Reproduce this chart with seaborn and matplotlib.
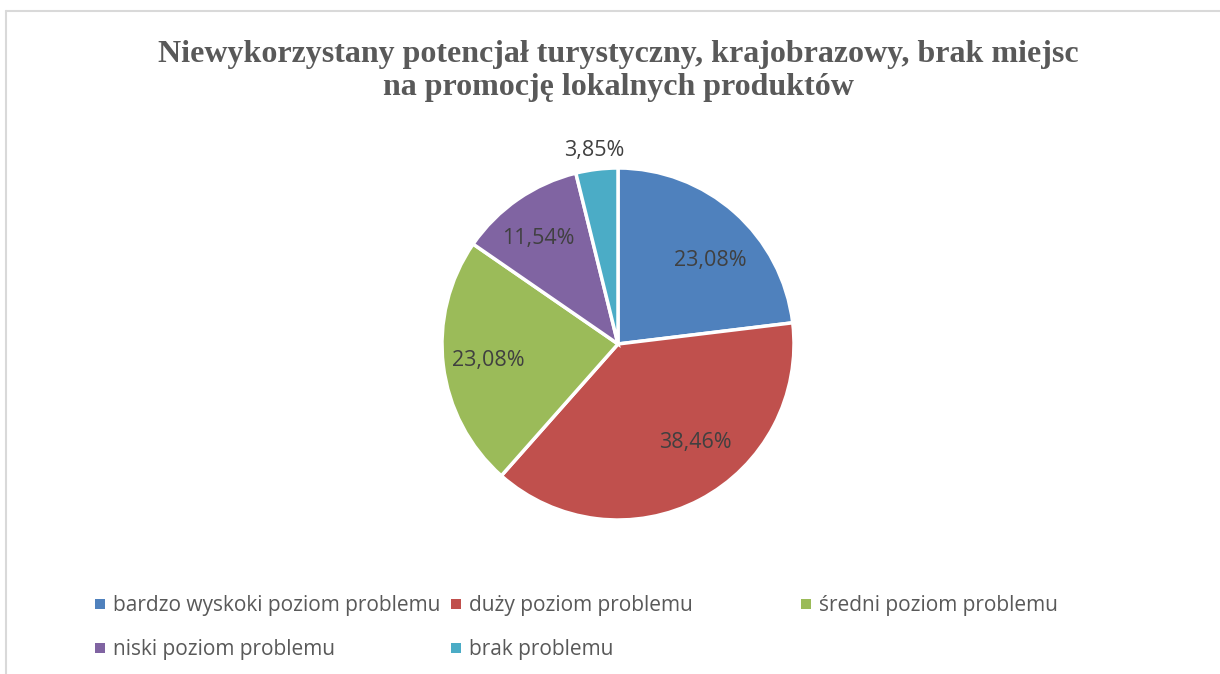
import matplotlib
matplotlib.use("Agg")
import matplotlib.pyplot as plt
import seaborn as sns
import numpy as np
from matplotlib.lines import Line2D
from matplotlib.patches import Rectangle

# ---- data ----
categories = ["bardzo wyskoki poziom problemu", "duży poziom problemu",
              "średni poziom problemu", "niski poziom problemu", "brak problemu"]
values = [23.08, 38.46, 23.08, 11.54, 3.85]
title = "Niewykorzystany potencjał turystyczny, krajobrazowy, brak miejsc\nna promocję lokalnych produktów"

# ---- style ----
colors = ["#4F81BD", "#C0504D", "#9BBB59", "#8064A2", "#4BACC6"]
label_radius = [0.71, 0.71, 0.745, 0.75, 1.11]
label_shift_deg = [-6.4, 10.4, 0.2, 2.3, 0.1]

sns.set_theme(style="white")
plt.rcParams['font.family'] = ['Open Sans', 'DejaVu Sans']
palette = sns.color_palette(colors)

W, H = 1220, 674
fig = plt.figure(figsize=(W / 100, H / 100), dpi=100)
fig.patch.set_facecolor("white")

cx, cy, r = 618, 344, 176
ax = fig.add_axes([(cx - r) / W, (H - cy - r) / H, 2 * r / W, 2 * r / H])

def fmt(p):
    return f"{p:.2f}".replace(".", ",") + "%"

wedges, texts, autotexts = ax.pie(
    values, colors=palette, startangle=90, counterclock=False,
    autopct=lambda p: fmt(p), pctdistance=0.7,
    wedgeprops=dict(edgecolor="white", linewidth=2.5),
    textprops=dict(color="#404040", fontsize=15.5))
ax.set_xlim(-1, 1)
ax.set_ylim(-1, 1)
ax.set_aspect("equal")
ax.axis("off")

for w, t, rr, sh, v in zip(wedges, autotexts, label_radius, label_shift_deg, values):
    ang = np.deg2rad((w.theta1 + w.theta2) / 2 + sh)
    t.set_position((rr * np.cos(ang), rr * np.sin(ang)))
    t.set_text(fmt(v))

fig.text(cx / W, 1 - 71 / H, title, ha="center", va="center",
         family="Liberation Serif", fontweight="bold", fontsize=23,
         color="#595959", linespacing=1.15)

# legend (manual, Excel-like fixed columns)
leg_pos = [(100, 604), (456, 604), (806, 604), (100, 648), (456, 648)]
for (x, y), c, lab in zip(leg_pos, colors, categories):
    fig.patches.append(Rectangle(((x - 5) / W, 1 - (y + 5) / H), 10 / W, 10 / H,
                                 transform=fig.transFigure, facecolor=c,
                                 edgecolor="none"))
    fig.text((x + 13) / W, 1 - (y + 1) / H, lab, ha="left", va="center",
             fontsize=15, color="#595959")

# chart border (top and left visible)
bc = "#D9D9D9"
fig.add_artist(Line2D([6 / W, 6 / W], [0, 1 - 11 / H], transform=fig.transFigure, color=bc, lw=1.5))
fig.add_artist(Line2D([6 / W, 1], [1 - 11 / H, 1 - 11 / H], transform=fig.transFigure, color=bc, lw=1.5))

fig.savefig("out.png", dpi=100, facecolor="white")
